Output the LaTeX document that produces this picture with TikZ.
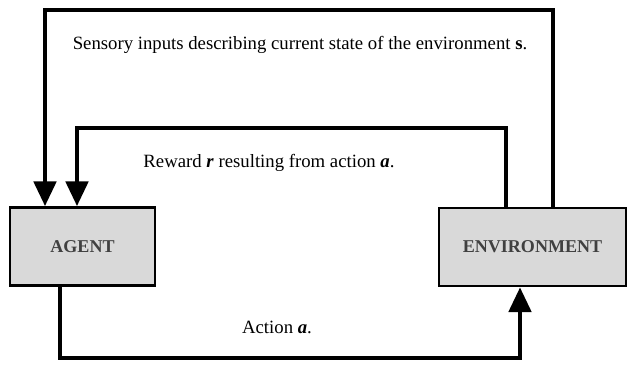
\documentclass[tikz,border=0pt]{standalone}
\usepackage{fontspec}
\setmainfont{Liberation Serif}
\usepackage{tikz}
\usetikzlibrary{arrows.meta,positioning}

\begin{document}
\begin{tikzpicture}[x=0.03cm, y=-0.03cm]
    % Stili
    \tikzstyle{block}=[rectangle, draw=black, line width=2.4pt, fill=gray!30, text=black!75, font=\fontsize{15.4}{17}\selectfont\bfseries, inner sep=0pt]
    \tikzstyle{feed}=[line width=3.4pt, -{Triangle[width=19pt, length=21pt]}]
    \tikzstyle{label}=[font=\fontsize{16}{18}\selectfont, inner sep=0pt]

    \useasboundingbox (0,0) rectangle (629,366);

    % Nodi
    \node (agent) [block, minimum width=4.35cm, minimum height=2.34cm] at (82.5,246.5) {AGENT};
    \node (env) [block, minimum width=5.61cm, minimum height=2.34cm] at (532.5,247) {ENVIRONMENT};

    \node (sense) [label] at (300,45) {Sensory inputs describing current state of the environment \textbf{s}.};
    \node (reward) [label] at (269,163) {Reward \textbf{\textit{r}} resulting from action \textbf{\textit{a}}.};
    \node (action) [label] at (277,327) {Action \textbf{\textit{a}}.};

    % Angoli
    \coordinate (sR) at (553,10);
    \coordinate (sL) at (45,10);
    \coordinate (rR) at (506,128);
    \coordinate (rL) at (77,128);
    \coordinate (aL) at (60,358);
    \coordinate (aR) at (520,358);

    % Collegamenti
    \draw [feed] (sR |- env.north) -- (sR) -- (sL) -- (sL |- agent.north);
    \draw [feed] (rR |- env.north) -- (rR) -- (rL) -- (rL |- agent.north);
    \draw [feed] (aL |- agent.south) -- (aL) -- (aR) -- (aR |- env.south);

\end{tikzpicture}
\end{document}
